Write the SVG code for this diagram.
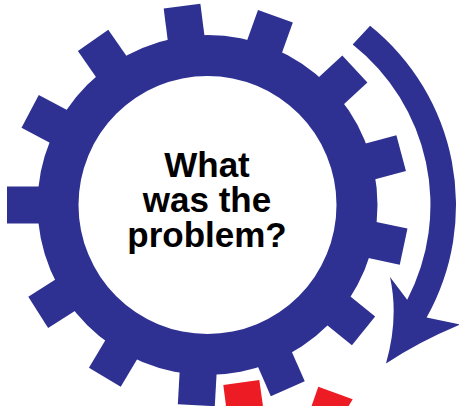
<svg xmlns="http://www.w3.org/2000/svg" width="459" height="406" viewBox="0 0 459 406">
  <style>
    .blue { fill: #2E3192; }
    .red { fill: #ED1C24; }
    .label { font-family: "Liberation Sans", Arial, sans-serif; font-weight: bold; font-size: 35px; fill: #000; text-anchor: middle; }
  </style>
  <defs>
    <rect id="tooth" x="160" y="-18.5" width="40.5" height="37"/>
  </defs>
  <rect width="459" height="406" fill="#fff"/>

  <g id="red-gear">
    <polygon class="red" points="223.3,385 259.3,380 263.8,412 226.8,412"/>
    <polygon class="red" points="318.3,386.7 352.7,399.3 345,412 309.5,412"/>
  </g>

  <g id="gear">
    <g class="blue" transform="translate(207.5,205)">
      <path fill-rule="evenodd" d="M-170,0 A170,170 0 1,0 170,0 A170,170 0 1,0 -170,0 Z M-129,0 A129,129 0 1,1 129,0 A129,129 0 1,1 -129,0 Z"/>
      <use href="#tooth" transform="rotate(262.7)"/>
      <use href="#tooth" transform="rotate(289.8)"/>
      <use href="#tooth" transform="rotate(317.3)"/>
      <use href="#tooth" transform="rotate(345)"/>
      <use href="#tooth" transform="rotate(12)"/>
      <use href="#tooth" transform="rotate(38.9)"/>
      <use href="#tooth" transform="rotate(66.4)"/>
      <use href="#tooth" transform="rotate(93.2)"/>
      <use href="#tooth" transform="rotate(120.8)"/>
      <use href="#tooth" transform="rotate(147.6)"/>
      <use href="#tooth" transform="rotate(180)"/>
      <use href="#tooth" transform="rotate(207.8)"/>
      <use href="#tooth" transform="rotate(235.2)"/>
    </g>
    <text class="label"><tspan x="207" y="177">What</tspan><tspan x="207" y="212">was the</tspan><tspan x="207" y="247">problem?</tspan></text>
  </g>

  <g id="connectors">
    <path class="blue" d="M352.7,44.5 A204.5,204.5 0 0,1 407.2,299.7 L390,277 Q399,318 386,363.5 Q418,342 460,324.5 L426.6,317.6 A230,230 0 0,0 370.1,25.8 Z"/>
  </g>
</svg>
